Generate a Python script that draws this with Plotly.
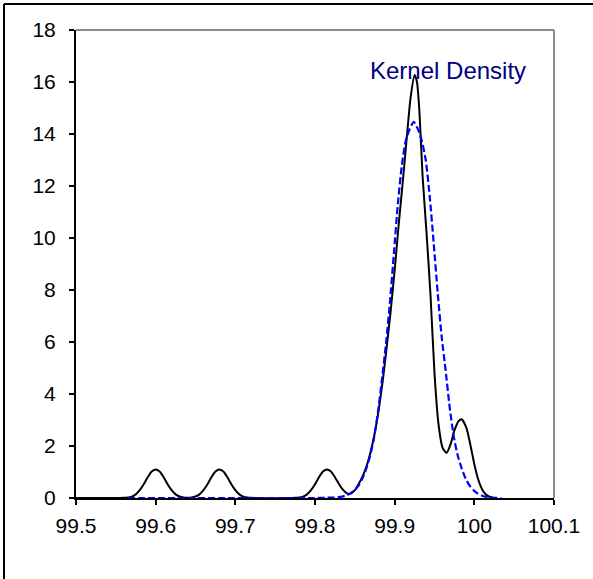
import plotly.graph_objects as go

# ---- data ----
black_x = [99.50, 99.555, 99.56, 99.565, 99.57, 99.575, 99.58, 99.585, 99.59, 99.595, 99.60,
           99.605, 99.61, 99.615, 99.62, 99.625, 99.63, 99.635, 99.64, 99.645, 99.65,
           99.655, 99.66, 99.665, 99.67, 99.675, 99.68, 99.685, 99.69, 99.695, 99.70,
           99.705, 99.71, 99.715, 99.72, 99.77, 99.775, 99.78, 99.785, 99.79, 99.795,
           99.80, 99.805, 99.81, 99.815, 99.82, 99.825, 99.83, 99.835, 99.84, 99.845,
           99.85, 99.855, 99.86, 99.865, 99.87, 99.875, 99.88, 99.885, 99.89, 99.895,
           99.90, 99.905, 99.91, 99.915, 99.92, 99.925, 99.928, 99.931, 99.935, 99.94,
           99.945, 99.95, 99.955, 99.96, 99.965, 99.97, 99.975, 99.98, 99.984, 99.99,
           99.995, 100.0, 100.005, 100.01, 100.015, 100.02, 100.025]
black_y = [0.0, 0.0, 0.005, 0.018, 0.055, 0.14, 0.30, 0.53, 0.80, 1.02, 1.10,
           1.02, 0.80, 0.53, 0.30, 0.14, 0.06, 0.023, 0.012, 0.023, 0.06,
           0.14, 0.30, 0.53, 0.80, 1.02, 1.10, 1.02, 0.80, 0.53, 0.30,
           0.14, 0.055, 0.018, 0.005, 0.0, 0.005, 0.018, 0.055, 0.14, 0.30,
           0.53, 0.80, 1.02, 1.10, 1.02, 0.80, 0.54, 0.32, 0.18, 0.17,
           0.30, 0.55, 0.85, 1.25, 1.80, 2.50, 3.40, 4.50, 5.80, 7.20,
           8.77, 10.5, 12.1, 13.8, 15.4, 16.27, 16.0, 14.9, 12.4, 10.2,
           7.8, 4.8, 2.85, 1.95, 1.73, 2.05, 2.60, 2.95, 3.03, 2.70,
           2.05, 1.30, 0.70, 0.32, 0.12, 0.04, 0.0]

blue_x = [99.565, 99.70, 99.80, 99.814, 99.824, 99.834, 99.839, 99.844, 99.849, 99.854,
          99.859, 99.864, 99.869, 99.874, 99.879, 99.884, 99.889, 99.894, 99.899,
          99.904, 99.909, 99.914, 99.919, 99.924, 99.929, 99.934, 99.939, 99.944,
          99.949, 99.954, 99.959, 99.964, 99.969, 99.974, 99.979, 99.984, 99.989,
          99.994, 99.999, 100.004, 100.009, 100.014, 100.024, 100.034]
blue_y = [0.0, 0.0, 0.0, 0.01, 0.02, 0.05, 0.10, 0.17, 0.28, 0.45,
          0.72, 1.10, 1.60, 2.30, 3.30, 4.55, 5.90, 7.50, 9.40,
          11.3, 12.8, 13.75, 14.2, 14.47, 14.2, 13.75, 13.0, 11.6,
          9.80, 7.90, 6.20, 4.90, 3.50, 2.40, 1.65, 1.15, 0.75,
          0.48, 0.30, 0.18, 0.10, 0.05, 0.01, 0.0]

x_tickvals = [99.5, 99.6, 99.7, 99.8, 99.9, 100.0, 100.1]
x_ticktext = ["99.5", "99.6", "99.7", "99.8", "99.9", "100", "100.1"]
y_tickvals = [0, 2, 4, 6, 8, 10, 12, 14, 16, 18]
label_text = "Kernel Density"

W, H = 593, 579
L, R, T, B = 76, 554, 30, 498
pw, ph = R - L, B - T

def px(xp):
    return (xp - L) / pw

def py(yp):
    return (B - yp) / ph

fig = go.Figure()
fig.add_trace(go.Scatter(x=black_x, y=black_y, mode="lines",
                         line=dict(color="black", width=2, shape="spline", smoothing=0.6),
                         showlegend=False, hoverinfo="skip"))
fig.add_trace(go.Scatter(x=blue_x, y=blue_y, mode="lines",
                         line=dict(color="#0000ff", width=2.2, dash="7px,3px", shape="spline", smoothing=0.6),
                         showlegend=False, hoverinfo="skip"))

font = dict(family="Arial, Liberation Sans, sans-serif", size=21, color="black")

fig.update_layout(
    width=W, height=H,
    margin=dict(l=L, r=W - R, t=T, b=H - B, pad=0),
    paper_bgcolor="white", plot_bgcolor="white",
    font=font,
    xaxis=dict(range=[99.5, 100.1], tickmode="array", tickvals=x_tickvals, ticktext=x_ticktext,
               ticks="outside", ticklen=5, tickwidth=2, tickcolor="black",
               showline=True, linecolor="black", linewidth=2, showgrid=False, zeroline=False,
               tickfont=font, ticklabelstandoff=3, layer="below traces", fixedrange=True),
    yaxis=dict(range=[0, 18], tickmode="array", tickvals=y_tickvals,
               ticks="outside", ticklen=5, tickwidth=2, tickcolor="black",
               showline=True, linecolor="black", linewidth=2, showgrid=False, zeroline=False,
               tickfont=font, ticklabelstandoff=9, layer="below traces", fixedrange=True),
    shapes=[
        dict(type="line", xref="paper", yref="paper", x0=0, x1=1, y0=1, y1=1,
             line=dict(color="#8c8c8c", width=2), layer="below"),
        dict(type="line", xref="paper", yref="paper", x0=1, x1=1, y0=0, y1=1,
             line=dict(color="#8c8c8c", width=2), layer="below"),
        dict(type="line", xref="paper", yref="paper", x0=px(4), x1=px(W + 5), y0=py(4), y1=py(4),
             line=dict(color="black", width=2)),
        dict(type="line", xref="paper", yref="paper", x0=px(4), x1=px(4), y0=py(4), y1=py(H + 5),
             line=dict(color="black", width=2)),
    ],
    annotations=[
        dict(text=label_text, xref="paper", yref="paper", x=px(448), y=py(70),
             xanchor="center", yanchor="middle", showarrow=False,
             font=dict(family="Arial, Liberation Sans, sans-serif", size=24, color="#000080")),
    ],
)

fig.write_html("out.html")
